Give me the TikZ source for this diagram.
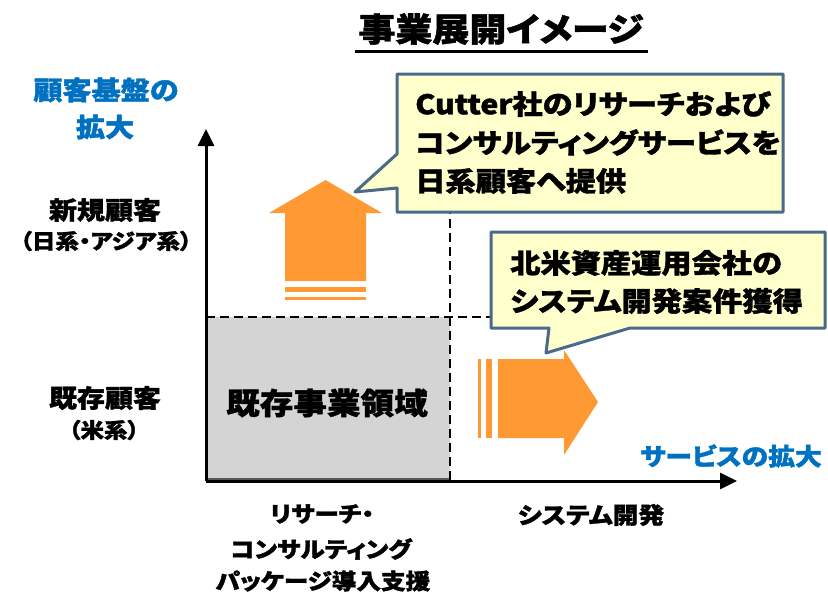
\documentclass[tikz,border=0pt]{standalone}
\usepackage{fontspec}
\setmainfont{Noto Sans CJK JP}[RawFeature=+palt, BoldFeatures={FakeBold=1.3}]
\usetikzlibrary{arrows.meta}
\definecolor{boxgray}{RGB}{212,212,212}
\definecolor{axblue}{RGB}{0,112,192}
\definecolor{arrorange}{RGB}{255,153,51}
\definecolor{callfill}{RGB}{255,255,204}
\definecolor{callline}{RGB}{74,106,138}
\tikzset{
  txt/.style={inner sep=0pt, font=\bfseries\fontsize{#1}{#1}\selectfont, xscale=1.12, transform shape},
  txt/.default=24,
  axis/.style={line width=3pt, -{Triangle[length=17pt,width=16pt]}},
  divider/.style={line width=2.4pt, dash pattern=on 9pt off 5pt},
  callout/.style={fill=callfill, draw=callline, line width=3pt, line join=round},
  bigarrow/.style={fill=arrorange, draw=none},
}
\begin{document}
\begin{tikzpicture}[x=1pt,y=-1pt]
\useasboundingbox (0,0) rectangle (828,595);
% existing business region
\fill[boxgray] (206,317) rectangle (450,481);
\draw[gray!70!black, line width=2pt] (206,479) -- (450,479);
% dividers
\draw[divider] (206,317) -- (500,317);
\draw[divider] (450,205) -- (450,481);
% axes
\coordinate (O) at (206,481);
\coordinate (Ytip) at (206,129);
\coordinate (Xtip) at (737,481);
\draw[axis] (O) -- (Ytip);
\draw[axis] (O) -- (Xtip);
% up arrow
\fill[bigarrow] (285,281) -- (285,213) -- (269,213) -- (325.5,180) -- (382,213) -- (366,213) -- (366,281) -- cycle;
\fill[bigarrow] (285,287) rectangle (366,292);
\fill[bigarrow] (285,297) rectangle (366,299.5);
% right arrow
\fill[bigarrow] (498,359) -- (564,359) -- (564,350) -- (598,402) -- (564,455) -- (564,438) -- (498,438) -- cycle;
\fill[bigarrow] (486,359) rectangle (492,438);
\fill[bigarrow] (478,359) rectangle (481,438);
% callouts
\draw[callout] (397,74) -- (783,74) -- (783,212) -- (397,212) -- (397,188) -- (355,192) -- (397,154) -- cycle;
\draw[callout] (491,232) -- (825,232) -- (825,328) -- (630,328) -- (546,353) -- (549,328) -- (491,328) -- cycle;
% title
\node[txt=33, anchor=center] (title) at (501,29) {事業展開イメージ};
\draw[line width=3pt] (355,51.5) -- (648,51.5);
% callout texts
\node[txt=27, anchor=west] (c1a) at (415,104) {Cutter社のリサーチおよび};
\node[txt=27, anchor=west] (c1b) at (415,142.5) {コンサルティングサービスを};
\node[txt=27, anchor=west] (c1c) at (415,181) {日系顧客へ提供};
\node[txt=27, anchor=west] (c2a) at (510,263) {北米資産運用会社の};
\node[txt=27, anchor=west] (c2b) at (510,301) {システム開発案件獲得};
% y-axis labels
\node[txt=26, text=axblue] (yl1) at (106,90) {顧客基盤の};
\node[txt=26, text=axblue] (yl2) at (105,127) {拡大};
\node[txt=25] (new1) at (105,210) {新規顧客};
\node[txt=21] (new2) at (106,241) {（日系・アジア系）};
\node[txt=25] (old1) at (105,398) {既存顧客};
\node[txt=21] (old2) at (104,430) {（米系）};
% region label
\node[txt=30] (region) at (327,403) {既存事業領域};
% x-axis labels
\node[txt=24, text=axblue] (xl) at (731,456) {サービスの拡大};
\node[txt=22] (b1) at (322,514) {リサーチ・};
\node[txt=22] (b2) at (321,549) {コンサルティング};
\node[txt=22] (b3) at (323,581) {パッケージ導入支援};
\node[txt=23] (b4) at (591,515) {システム開発};
\end{tikzpicture}
\end{document}
